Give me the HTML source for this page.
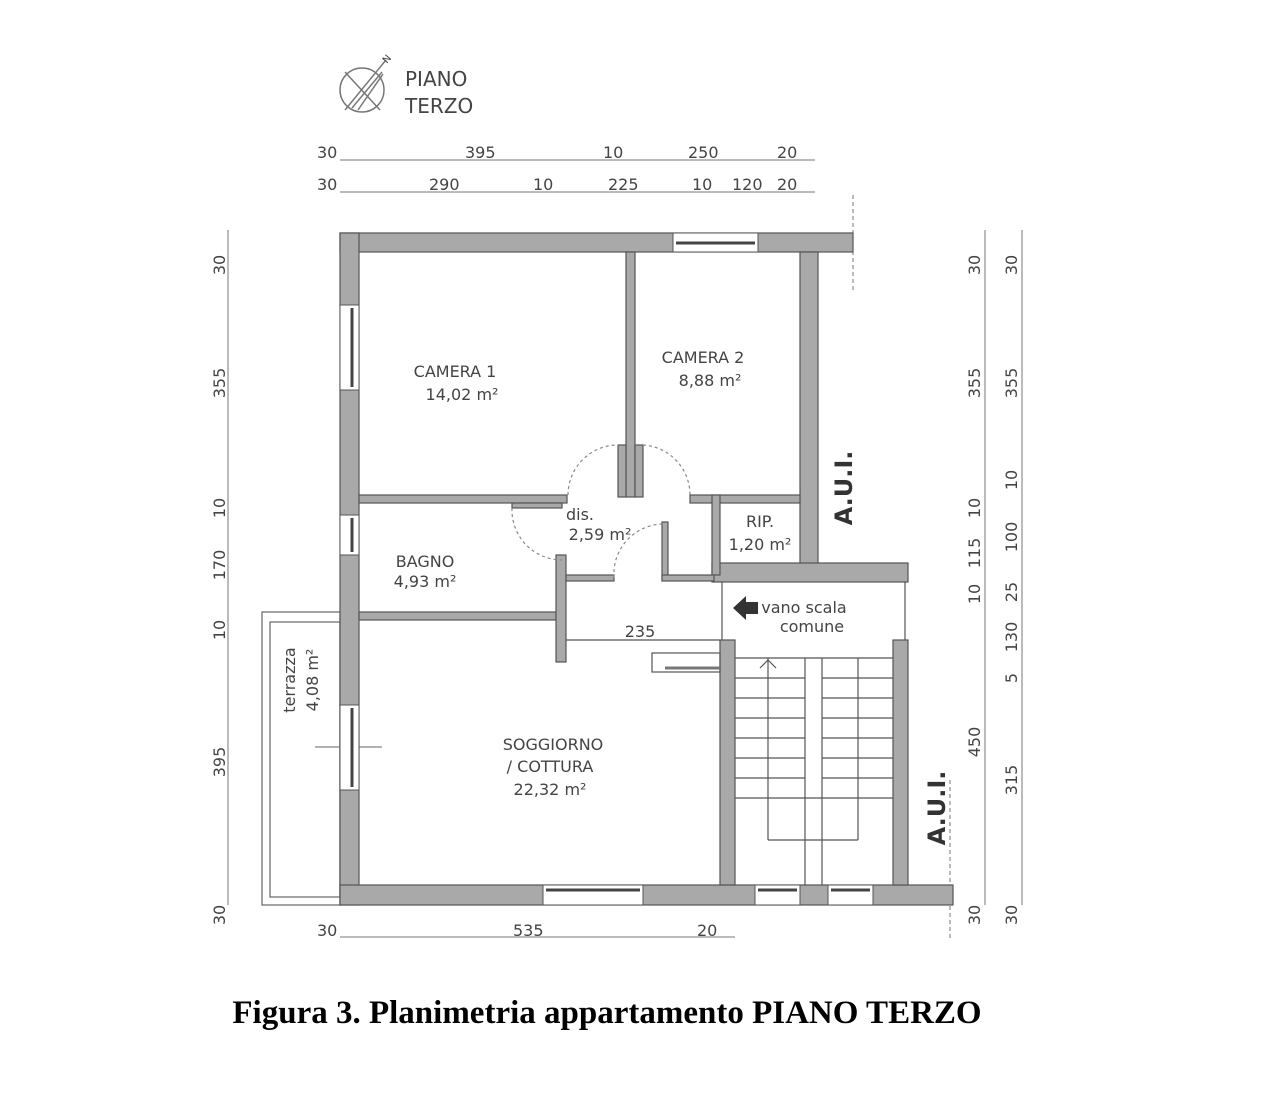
<!DOCTYPE html>
<html><head><meta charset="utf-8"><style>
html,body{margin:0;padding:0;background:#fff;}
svg{display:block}
.t{font-family:"DejaVu Sans","Liberation Sans",sans-serif;fill:#444;}
.w{fill:#a9a9a9;stroke:#555;stroke-width:1.2}
</style></head><body>
<svg width="1266" height="1104" viewBox="0 0 1266 1104" xmlns="http://www.w3.org/2000/svg">
<g stroke="#777" fill="none" stroke-width="1.5">
<circle cx="362" cy="90" r="22"/>
<line x1="345" y1="72" x2="380" y2="110"/>
<line x1="345" y1="110" x2="386" y2="60"/>
<line x1="352" y1="108" x2="382" y2="72"/>
<line x1="358" y1="110" x2="383" y2="74"/>
</g>
<text x="387" y="64" class="t" font-size="10" transform="rotate(-50 387 64)">N</text>
<text x="405" y="86" class="t" font-size="20">PIANO</text>
<text x="405" y="113" class="t" font-size="20">TERZO</text>

<g stroke="#777" stroke-width="1"><line x1="340" y1="160" x2="815" y2="160"/><line x1="340" y1="192" x2="815" y2="192"/>
<line x1="340" y1="937" x2="735" y2="937"/>
<line x1="228" y1="230" x2="228" y2="905"/>
<line x1="985" y1="230" x2="985" y2="905"/>
<line x1="1022" y1="230" x2="1022" y2="905"/>
<line x1="853" y1="195" x2="853" y2="290" stroke-dasharray="4,3"/>
<line x1="950" y1="780" x2="950" y2="940" stroke-dasharray="4,3"/>
</g>
<g class="t" font-size="16">
<text x="317" y="158">30</text><text x="465" y="158">395</text><text x="603" y="158">10</text><text x="688" y="158">250</text><text x="777" y="158">20</text>
<text x="317" y="190">30</text><text x="429" y="190">290</text><text x="533" y="190">10</text><text x="608" y="190">225</text><text x="692" y="190">10</text><text x="732" y="190">120</text><text x="777" y="190">20</text>
<text x="317" y="936">30</text><text x="513" y="936">535</text><text x="697" y="936">20</text>
</g>
<g class="t" font-size="16" text-anchor="middle">
<text transform="translate(225,265) rotate(-90)">30</text>
<text transform="translate(225,383) rotate(-90)">355</text>
<text transform="translate(225,508) rotate(-90)">10</text>
<text transform="translate(225,565) rotate(-90)">170</text>
<text transform="translate(225,630) rotate(-90)">10</text>
<text transform="translate(225,762) rotate(-90)">395</text>
<text transform="translate(225,915) rotate(-90)">30</text>
<text transform="translate(980,265) rotate(-90)">30</text>
<text transform="translate(980,383) rotate(-90)">355</text>
<text transform="translate(980,508) rotate(-90)">10</text>
<text transform="translate(980,553) rotate(-90)">115</text>
<text transform="translate(980,594) rotate(-90)">10</text>
<text transform="translate(980,742) rotate(-90)">450</text>
<text transform="translate(980,915) rotate(-90)">30</text>
<text transform="translate(1017,265) rotate(-90)">30</text>
<text transform="translate(1017,383) rotate(-90)">355</text>
<text transform="translate(1017,480) rotate(-90)">10</text>
<text transform="translate(1017,537) rotate(-90)">100</text>
<text transform="translate(1017,592) rotate(-90)">25</text>
<text transform="translate(1017,637) rotate(-90)">130</text>
<text transform="translate(1017,678) rotate(-90)">5</text>
<text transform="translate(1017,780) rotate(-90)">315</text>
<text transform="translate(1017,915) rotate(-90)">30</text>
</g>

<rect x="262" y="612" width="78" height="293" fill="none" stroke="#666" stroke-width="1.2"/>
<rect x="270" y="622" width="70" height="275" fill="none" stroke="#666" stroke-width="1.2"/>
<line x1="315" y1="747" x2="382" y2="747" stroke="#666"/>

<rect class="w" x="340" y="233" width="513" height="19"/>
<rect class="w" x="340" y="233" width="19" height="672"/>
<rect class="w" x="340" y="885" width="613" height="20"/>
<rect class="w" x="800" y="252" width="18" height="313"/>
<rect class="w" x="712" y="563" width="196" height="19"/>
<rect class="w" x="720" y="640" width="15" height="245"/>
<rect class="w" x="893" y="640" width="15" height="245"/>
<rect class="w" x="626" y="252" width="9" height="245"/>
<rect class="w" x="359" y="495" width="208" height="8"/>
<rect class="w" x="690" y="495" width="110" height="8"/>
<rect class="w" x="712" y="495" width="8" height="80"/>
<rect class="w" x="359" y="612" width="197" height="8"/>
<rect class="w" x="556" y="555" width="10" height="107"/>
<rect class="w" x="566" y="575" width="48" height="6"/>
<rect class="w" x="662" y="522" width="6" height="58"/>
<rect class="w" x="662" y="575" width="52" height="6"/>
<rect class="w" x="512" y="503" width="50" height="5"/>
<rect class="w" x="618" y="445" width="8" height="52"/>
<rect class="w" x="635" y="445" width="8" height="52"/>

<g fill="#fff" stroke="#555" stroke-width="1">
<rect x="673" y="233" width="85" height="19"/>
<rect x="340" y="305" width="19" height="85"/>
<rect x="340" y="515" width="19" height="40"/>
<rect x="340" y="705" width="19" height="85"/>
<rect x="543" y="885" width="100" height="20"/>
<rect x="755" y="885" width="45" height="20"/>
<rect x="828" y="885" width="45" height="20"/>
</g>
<g stroke="#444" stroke-width="3">
<line x1="676" y1="243" x2="755" y2="243"/>
<line x1="352" y1="308" x2="352" y2="387"/>
<line x1="352" y1="518" x2="352" y2="552"/>
<line x1="352" y1="708" x2="352" y2="787"/>
<line x1="546" y1="890" x2="640" y2="890"/>
<line x1="758" y1="890" x2="797" y2="890"/>
<line x1="831" y1="890" x2="870" y2="890"/>
</g>

<g fill="none" stroke="#888" stroke-width="1.2" stroke-dasharray="3,3">
<path d="M568 495 A50 50 0 0 1 618 445"/>
<path d="M643 445 A50 50 0 0 1 690 495"/>
<path d="M512 508 A50 50 0 0 0 562 560"/>
<path d="M614 578 A50 50 0 0 1 664 524"/>
</g>
<g stroke="#555" stroke-width="1.2" fill="none">
<line x1="722" y1="582" x2="722" y2="640"/>
<line x1="905" y1="582" x2="905" y2="640"/>
<line x1="566" y1="640" x2="720" y2="640"/>
<rect x="652" y="653" width="68" height="19"/>
<line x1="665" y1="668" x2="720" y2="668" stroke-width="3" stroke="#777"/>
<line x1="805" y1="658" x2="805" y2="885"/>
<line x1="822" y1="658" x2="822" y2="885"/>
<line x1="735" y1="658" x2="893" y2="658"/>
<line x1="768" y1="658" x2="768" y2="840"/>
<line x1="858" y1="658" x2="858" y2="840"/>
<line x1="768" y1="840" x2="858" y2="840"/>
<line x1="760" y1="668" x2="768" y2="660"/><line x1="776" y1="668" x2="768" y2="660"/>
</g>
<g stroke="#555" stroke-width="1.2">
<line x1="735" y1="678" x2="805" y2="678"/><line x1="822" y1="678" x2="893" y2="678"/>
<line x1="735" y1="698" x2="805" y2="698"/><line x1="822" y1="698" x2="893" y2="698"/>
<line x1="735" y1="718" x2="805" y2="718"/><line x1="822" y1="718" x2="893" y2="718"/>
<line x1="735" y1="738" x2="805" y2="738"/><line x1="822" y1="738" x2="893" y2="738"/>
<line x1="735" y1="758" x2="805" y2="758"/><line x1="822" y1="758" x2="893" y2="758"/>
<line x1="735" y1="778" x2="805" y2="778"/><line x1="822" y1="778" x2="893" y2="778"/>
<line x1="735" y1="798" x2="893" y2="798"/>
</g>
<polygon points="733,608 746,596 746,602 758,602 758,614 746,614 746,620" fill="#333"/>

<g class="t" font-size="16" text-anchor="middle">
<text x="455" y="377">CAMERA 1</text><text x="462" y="400">14,02 m²</text>
<text x="703" y="363">CAMERA 2</text><text x="710" y="386">8,88 m²</text>
<text x="580" y="520">dis.</text><text x="600" y="540">2,59 m²</text>
<text x="760" y="527">RIP.</text><text x="760" y="550">1,20 m²</text>
<text x="425" y="567">BAGNO</text><text x="425" y="587">4,93 m²</text>
<text x="640" y="637">235</text>
<text x="804" y="613">vano scala</text><text x="812" y="632">comune</text>
<text x="553" y="750">SOGGIORNO</text><text x="550" y="772">/ COTTURA</text><text x="550" y="795">22,32 m²</text>
<text transform="translate(295,680) rotate(-90)">terrazza</text>
<text transform="translate(318,680) rotate(-90)">4,08 m²</text>
</g>
<g font-family="'DejaVu Sans','Liberation Sans',sans-serif" font-weight="bold" font-size="24" fill="#333" text-anchor="middle">
<text transform="translate(852,488) rotate(-90)">A.U.I.</text>
<text transform="translate(945,808) rotate(-90)">A.U.I.</text>
</g>
<text x="607" y="1023" text-anchor="middle" font-family="'Liberation Serif',serif" font-weight="bold" font-size="33" fill="#000">Figura 3. Planimetria appartamento PIANO TERZO</text>
</svg>
</body></html>
